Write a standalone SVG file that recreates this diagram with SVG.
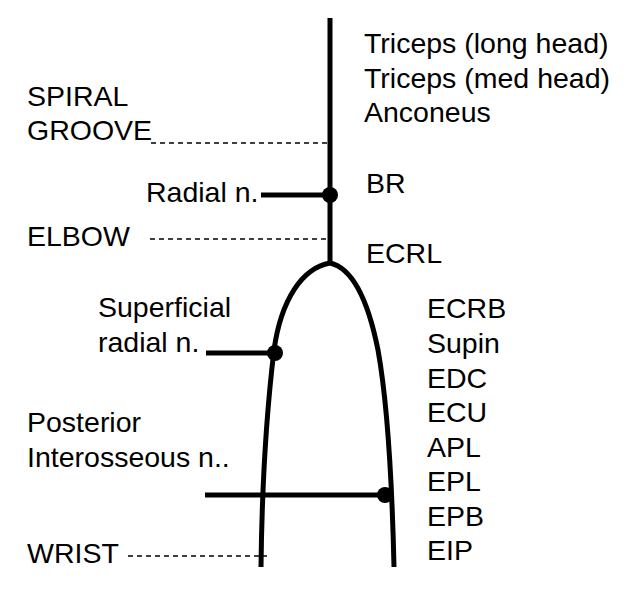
<svg xmlns="http://www.w3.org/2000/svg" width="636" height="591" viewBox="0 0 636 591">
<style>
text{font-family:"Liberation Sans",Arial,sans-serif;font-size:28.5px;fill:#000}
.n{stroke:#000;stroke-width:5;fill:none}
.d{stroke:#000;stroke-width:1.3;stroke-dasharray:5,4;fill:none}
.dot{fill:#000}
</style>
<rect width="636" height="591" fill="#fff"/>
<g id="connectors">
<path class="n" d="M330,18 L330,264"/>
<path class="n" d="M330,263 C302,268 281,300 274,350 C268,400 262,480 261,567"/>
<path class="n" d="M330,263 C352,268 368,300 378,350 C387,400 392,480 394,567"/>
<path class="n" d="M261,195 L330,195"/>
<path class="n" d="M206,353 L274,353"/>
<path class="n" d="M205,495 L386,495"/>
<path class="d" d="M151,143 L328,143"/>
<path class="d" d="M150,239 L328,239"/>
<path class="d" d="M128,556 L267,556"/>
</g>
<g id="dot-radial"><circle class="dot" cx="330" cy="195" r="8"/></g>
<g id="dot-superficial"><circle class="dot" cx="275" cy="353" r="8"/></g>
<g id="dot-pin"><circle class="dot" cx="385" cy="495" r="8"/></g>
<g id="label-triceps-long"><text x="364" y="53">Triceps (long head)</text></g>
<g id="label-triceps-med"><text x="364" y="88">Triceps (med head)</text></g>
<g id="label-anconeus"><text x="364" y="122">Anconeus</text></g>
<g id="label-br"><text x="366" y="193">BR</text></g>
<g id="label-ecrl"><text x="366" y="263">ECRL</text></g>
<g id="label-spiral"><text x="27" y="106">SPIRAL</text><text x="27" y="140">GROOVE</text></g>
<g id="label-radial"><text x="146" y="202">Radial n.</text></g>
<g id="label-elbow"><text x="27" y="246">ELBOW</text></g>
<g id="label-superficial"><text x="98" y="317">Superficial</text><text x="98" y="352">radial n.</text></g>
<g id="label-pin"><text x="27" y="432">Posterior</text><text x="27" y="467">Interosseous n..</text></g>
<g id="label-wrist"><text x="27" y="563">WRIST</text></g>
<g id="label-muscles">
<text x="427" y="318">ECRB</text>
<text x="427" y="353">Supin</text>
<text x="427" y="388">EDC</text>
<text x="427" y="422">ECU</text>
<text x="427" y="457">APL</text>
<text x="427" y="491">EPL</text>
<text x="427" y="526">EPB</text>
<text x="427" y="560">EIP</text>
</g>
</svg>
